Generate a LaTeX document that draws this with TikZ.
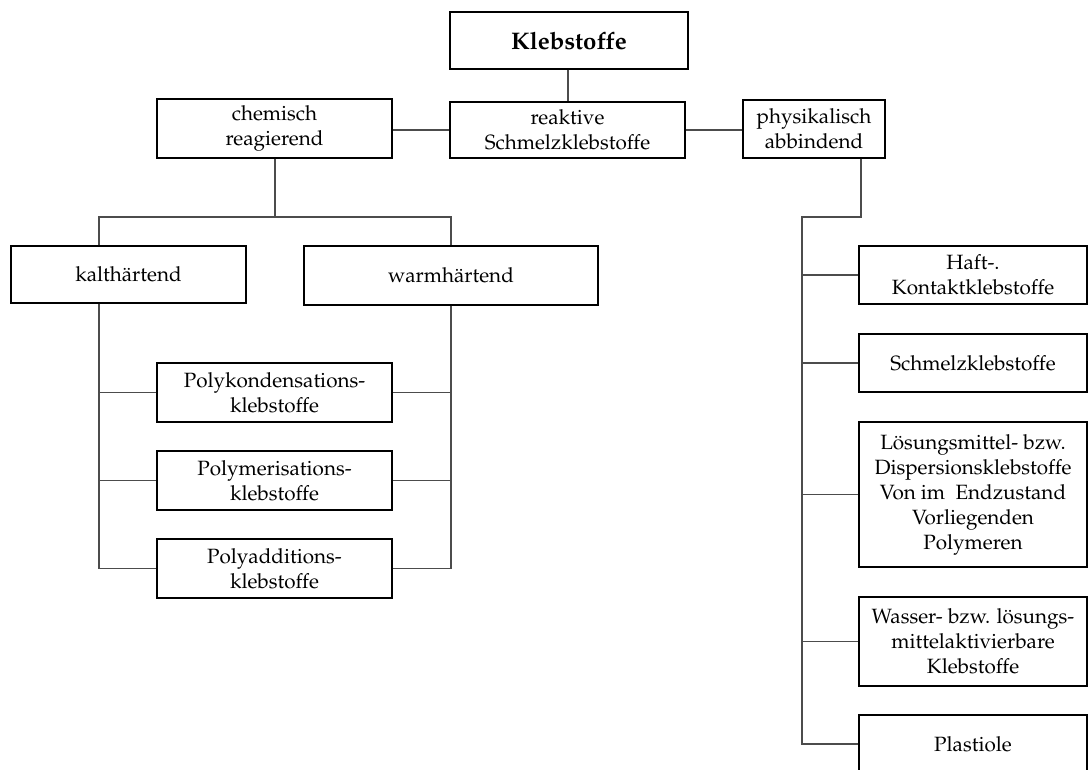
\documentclass[tikz,border=0pt]{standalone}
\usepackage[T1]{fontenc}
\usepackage{mathpazo}
\newdimen\pxu \pxu=0.75pt
\tikzset{
  box/.style={draw=black, line width=1.1pt, rectangle, inner sep=0pt, align=center,
              font=\fontsize{15.5}{18.75}\selectfont},
  link/.style={draw=black!70, line width=0.9pt},
}
\begin{document}
\begin{tikzpicture}[x=0.75pt, y=-0.75pt]
\clip (0,0) rectangle (1088,769);
\fill[white] (0,0) rectangle (1088,769);

% top level
\node[box, minimum width=238\pxu, minimum height=57\pxu, font=\fontsize{18}{22}\selectfont\bfseries]
  (kleb) at (569,40.5) {Klebstoffe};
\node[box, minimum width=235\pxu, minimum height=56\pxu] (reak) at (567.5,130) {reaktive\\Schmelzklebstoffe};
\node[box, minimum width=235\pxu, minimum height=59\pxu] (chem) at (274.5,128.5) {chemisch\\reagierend};
\node[box, minimum width=142\pxu, minimum height=58\pxu] (phys) at (814,129) {physikalisch\\abbindend};

% chemically reacting branch
\node[box, minimum width=235\pxu, minimum height=57\pxu] (kalt) at (128.5,274.5) {kalth\"artend};
\node[box, minimum width=294\pxu, minimum height=59\pxu] (warm) at (451,275.5) {warmh\"artend};
\node[box, minimum width=235\pxu, minimum height=59\pxu] (pk) at (274.5,392.5) {Polykondensations-\\klebstoffe};
\node[box, minimum width=235\pxu, minimum height=59\pxu] (pm) at (274.5,480.5) {Polymerisations-\\klebstoffe};
\node[box, minimum width=235\pxu, minimum height=59\pxu] (pa) at (274.5,568.5) {Polyadditions-\\klebstoffe};

% physically setting branch
\node[box, minimum width=228\pxu, minimum height=58\pxu] (haft) at (973,275) {Haft-.\\Kontaktklebstoffe};
\node[box, minimum width=228\pxu, minimum height=58\pxu] (schm) at (973,363) {Schmelzklebstoffe};
\node[box, minimum width=228\pxu, minimum height=145\pxu] (loes) at (973,494.5)
  {L\"osungsmittel- bzw.\\Dispersionsklebstoffe\\Von im\ \ Endzustand\\Vorliegenden\\Polymeren};
\node[box, minimum width=228\pxu, minimum height=89\pxu] (wass) at (973,641.5)
  {Wasser- bzw. l\"osungs-\\mittelaktivierbare\\Klebstoffe};
\node[box, minimum width=228\pxu, minimum height=58\pxu] (plas) at (973,744) {Plastiole};

% junction points
\coordinate (tj) at (568,130);
\coordinate (cj) at (275,217);
\coordinate (kj) at (99,217);
\coordinate (wj) at (451,217);
\coordinate (pj) at (861,217);
\coordinate (rj) at (802,217);

% connectors, top level
\draw[link] (kleb.south -| tj) -- (reak.north -| tj);
\draw[link] (chem.east |- tj) -- (reak.west |- tj);
\draw[link] (reak.east |- tj) -- (phys.west |- tj);

% connectors, chemically reacting
\draw[link] (chem.south -| cj) -- (cj);
\draw[link] (kalt.north -| kj) -- (kj) -- (wj) -- (warm.north -| wj);
\draw[link] (kalt.south -| kj) -- (kj |- pa.west) -- (pa.west);
\draw[link] (kj |- pk.west) -- (pk.west);
\draw[link] (kj |- pm.west) -- (pm.west);
\draw[link] (warm.south -| wj) -- (wj |- pa.east) -- (pa.east);
\draw[link] (wj |- pk.east) -- (pk.east);
\draw[link] (wj |- pm.east) -- (pm.east);

% connectors, physically setting
\draw[link] (phys.south -| pj) -- (pj) -- (rj) -- (rj |- plas.west) -- (plas.west);
\draw[link] (rj |- haft.west) -- (haft.west);
\draw[link] (rj |- schm.west) -- (schm.west);
\draw[link] (rj |- loes.west) -- (loes.west);
\draw[link] (rj |- wass.west) -- (wass.west);
\end{tikzpicture}
\end{document}
